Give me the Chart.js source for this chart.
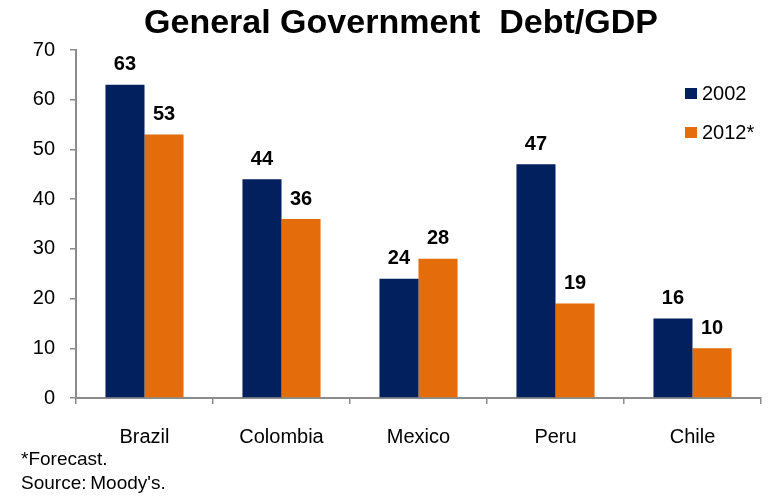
<!DOCTYPE html>
<html>
<head>
<meta charset="utf-8">
<script src="https://cdn.jsdelivr.net/npm/chart.js@4.4.1/dist/chart.umd.min.js"></script>
<style>
  html, body { margin: 0; padding: 0; background: #ffffff; }
  #wrap { width: 774px; height: 497px; position: relative; }
</style>
</head>
<body>
<div id="wrap"><canvas id="c" width="774" height="497"></canvas></div>
<script>
// Chart data
const countries = ['Brazil', 'Colombia', 'Mexico', 'Peru', 'Chile'];
const debt2002 = [63, 44, 24, 47, 16];
const debt2012 = [53, 36, 28, 19, 10];
const seriesNames = ['2002', '2012*'];
const yTicks = [0, 10, 20, 30, 40, 50, 60, 70];
const titleText = 'General Government  Debt/GDP';
const footnotes = ['*Forecast.', "Source:\u2009Moody's."];

const NAVY = '#021f5e';
const ORANGE = '#e46c0a';
const AXIS = '#8c8c8c';
const FONT = '"Liberation Sans", Arial, Helvetica, sans-serif';

// Title, value labels, legend and footnotes drawn on the canvas
const decorations = {
  id: 'decorations',
  afterDatasetsDraw(chart) {
    const ctx = chart.ctx;
    ctx.save();
    // value labels above bars
    ctx.fillStyle = '#000';
    ctx.font = 'bold 20px ' + FONT;
    ctx.textAlign = 'center';
    ctx.textBaseline = 'middle';
    chart.data.datasets.forEach((ds, i) => {
      chart.getDatasetMeta(i).data.forEach((bar, j) => {
        ctx.fillText(String(ds.data[j]), bar.x, bar.y - 20);
      });
    });
    ctx.restore();
  },
  afterDraw(chart) {
    const ctx = chart.ctx;
    ctx.save();
    // title
    ctx.fillStyle = '#000';
    ctx.font = 'bold 34px ' + FONT;
    ctx.textAlign = 'center';
    ctx.textBaseline = 'middle';
    ctx.fillText(titleText, 401, 24);

    // legend
    const legendRows = [94, 133];
    ctx.font = '20px ' + FONT;
    ctx.textAlign = 'left';
    chart.data.datasets.forEach((ds, i) => {
      const y = legendRows[i];
      ctx.fillStyle = ds.backgroundColor;
      ctx.fillRect(685, y - 6, 12, 11);
      ctx.fillStyle = '#000';
      ctx.fillText(ds.label, 702, y);
    });

    // footnotes
    ctx.font = '19px ' + FONT;
    ctx.fillText(footnotes[0], 21, 460);
    ctx.fillText(footnotes[1], 21, 484);
    ctx.restore();
  }
};

new Chart(document.getElementById('c'), {
  type: 'bar',
  data: {
    labels: countries,
    datasets: [
      { label: seriesNames[0], data: debt2002, backgroundColor: NAVY },
      { label: seriesNames[1], data: debt2012, backgroundColor: ORANGE }
    ]
  },
  options: {
    responsive: false,
    animation: false,
    devicePixelRatio: 1,
    layout: { padding: { left: 0, right: 13, top: 50, bottom: 39 } },
    datasets: {
      bar: { categoryPercentage: 0.57, barPercentage: 1.0 }
    },
    plugins: {
      legend: { display: false },
      title: { display: false },
      tooltip: { enabled: false }
    },
    scales: {
      x: {
        afterFit(scale) { scale.height = 60; },
        grid: {
          offset: true,
          drawOnChartArea: false,
          drawTicks: true,
          tickLength: 6,
          color: AXIS,
          lineWidth: 1.5
        },
        border: { display: true, color: AXIS, width: 2 },
        ticks: {
          color: '#000',
          padding: 21,
          font: { family: FONT, size: 20 }
        }
      },
      y: {
        min: 0,
        max: 70,
        afterFit(scale) { scale.width = 76; },
        afterBuildTicks(scale) { scale.ticks = yTicks.map(v => ({ value: v })); },
        grid: {
          drawOnChartArea: false,
          drawTicks: true,
          tickLength: 6,
          color: AXIS,
          lineWidth: 1.5
        },
        border: { display: true, color: AXIS, width: 2 },
        ticks: {
          color: '#000',
          padding: 15,
          font: { family: FONT, size: 20 }
        }
      }
    }
  },
  plugins: [decorations]
});
</script>
</body>
</html>
